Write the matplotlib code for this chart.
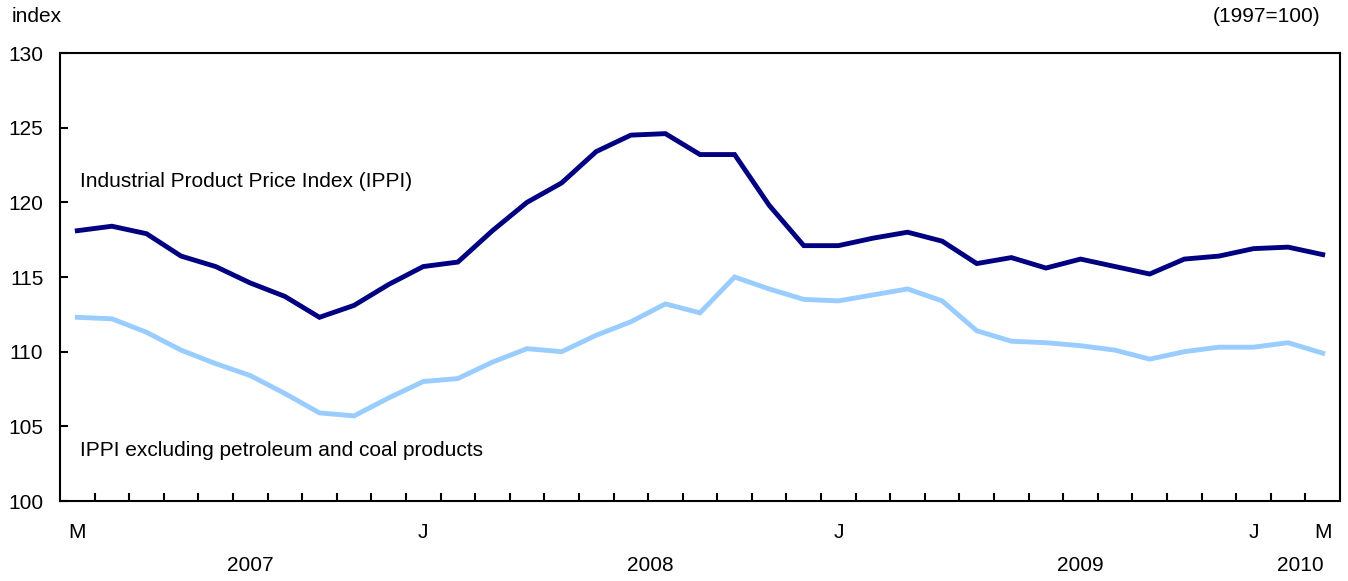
import numpy as np
import matplotlib
matplotlib.use('Agg')
import matplotlib.pyplot as plt

plt.rcParams['font.family'] = ['Liberation Sans', 'DejaVu Sans']

# monthly, March 2007 .. March 2010
ippi = [118.1, 118.4, 117.9, 116.4, 115.7, 114.6, 113.7, 112.3, 113.1, 114.5,
        115.7, 116.0, 118.1, 120.0, 121.3, 123.4, 124.5, 124.6, 123.2, 123.2,
        119.8, 117.1, 117.1, 117.6, 118.0, 117.4, 115.9, 116.3, 115.6, 116.2,
        115.7, 115.2, 116.2, 116.4, 116.9, 117.0, 116.5]
ippi_ex = [112.3, 112.2, 111.3, 110.1, 109.2, 108.4, 107.2, 105.9, 105.7, 106.9,
           108.0, 108.2, 109.3, 110.2, 110.0, 111.1, 112.0, 113.2, 112.6, 115.0,
           114.2, 113.5, 113.4, 113.8, 114.2, 113.4, 111.4, 110.7, 110.6, 110.4,
           110.1, 109.5, 110.0, 110.3, 110.3, 110.6, 109.9]
month_pos = [0, 10, 22, 34, 36]
month_labels = ['M', 'J', 'J', 'J', 'M']
years = ['2007', '2008', '2009', '2010']
year_pos = [5.0, 16.55, 29.0, 35.35]

x = np.arange(len(ippi))
fs = 15

fig = plt.figure(figsize=(13.48, 5.81), dpi=100)
ax = fig.add_axes([60/1348, 1-501/581, 1280/1348, 448/581])

ax.plot(x, ippi, color='#000080', lw=3.5, solid_joinstyle='miter')
ax.plot(x, ippi_ex, color='#99ccff', lw=3.5, solid_joinstyle='miter')

ax.set_xlim(-0.5, len(ippi) - 0.5)
ax.set_ylim(100, 130)
ax.set_yticks(np.arange(100, 131, 5))
ax.set_xticks(month_pos)
ax.set_xticklabels(month_labels)
ax.set_xticks(np.arange(0.5, len(ippi) - 1, 1), minor=True)
ax.tick_params(axis='x', which='major', length=0, pad=16, labelsize=fs)
ax.tick_params(axis='x', which='minor', direction='in', length=6, width=1.5)
ax.tick_params(axis='y', direction='in', length=6, width=1.5, pad=12, labelsize=fs)
for s in ax.spines.values():
    s.set_linewidth(1.5)

for yl, yp in zip(years, year_pos):
    ax.text(yp, -0.143, yl, transform=ax.get_xaxis_transform(), ha='center', va='center', fontsize=fs)

ax.text(0.08, 121.4, 'Industrial Product Price Index (IPPI)', fontsize=fs, va='center')
ax.text(0.08, 103.4, 'IPPI excluding petroleum and coal products', fontsize=fs, va='center')

fig.text(12/1348, 1-16/581, 'index', fontsize=fs, va='center')
fig.text(1320/1348, 1-16/581, '(1997=100)', fontsize=fs, va='center', ha='right')

fig.savefig('out.png', dpi=100)
